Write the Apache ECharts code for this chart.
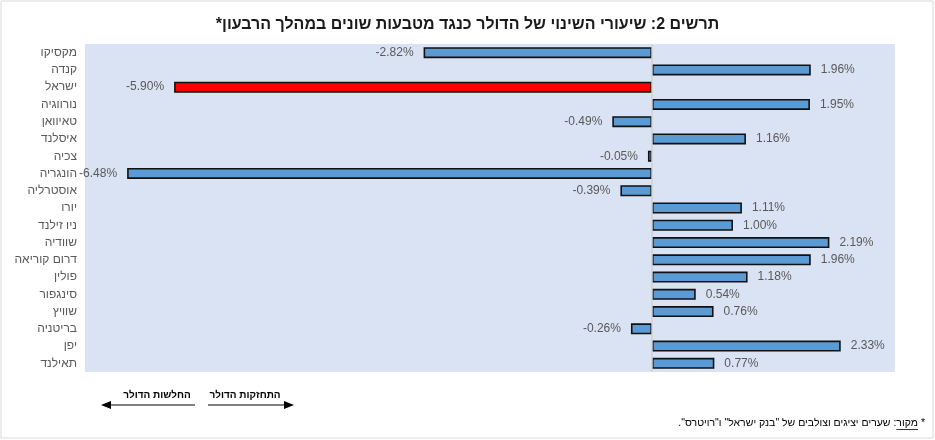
<!DOCTYPE html>
<html>
<head>
<meta charset="utf-8">
<script src="https://cdn.jsdelivr.net/npm/echarts@6/dist/echarts.min.js"></script>
<style>
  html, body { margin: 0; padding: 0; background: #fff; }
  #chart { width: 935px; height: 440px; }
</style>
</head>
<body>
<div id="chart"></div>
<script>
// נתונים
const countries = ['מקסיקו', 'קנדה', 'ישראל', 'נורווגיה', 'טאיוואן', 'איסלנד', 'צכיה', 'הונגריה', 'אוסטרליה', 'יורו',
  'ניו זילנד', 'שוודיה', 'דרום קוריאה', 'פולין', 'סינגפור', 'שוויץ', 'בריטניה', 'יפן', 'תאילנד'];
const changes = [-2.82, 1.96, -5.90, 1.95, -0.49, 1.16, -0.05, -6.48, -0.39, 1.11,
  1.00, 2.19, 1.96, 1.18, 0.54, 0.76, -0.26, 2.33, 0.77];
const highlight = 'ישראל';

const titleText = 'תרשים 2: שיעורי השינוי של הדולר כנגד מטבעות שונים במהלך הרבעון*';
const noteText = '* מקור: שערים יציגים וצולבים של "בנק ישראל" ו"רויטרס".';
const noteWord = 'מקור';
const weakText = 'החלשות הדולר';
const strongText = 'התחזקות הדולר';

const FONT = '"Liberation Sans", Arial, sans-serif';
const NOTE_FONT = '10.5px ' + FONT;
const rtl = s => '\u202B' + s + '\u202C';

// מדידת מיקום הקו התחתון של "מקור"
const ctx = document.createElement('canvas').getContext('2d');
ctx.font = NOTE_FONT;
const noteRight = 925;
const starW = ctx.measureText('* ').width;
const wordW = ctx.measureText(noteWord).width;

const chart = echarts.init(document.getElementById('chart'), null, { renderer: 'canvas' });

const barData = changes.map((v, i) => ({
  value: v,
  itemStyle: { color: countries[i] === highlight ? '#ff0000' : '#5b9bd5' },
  label: { position: v < 0 ? 'left' : 'right' }
}));

const option = {
  animation: false,
  textStyle: { fontFamily: FONT },
  grid: {
    left: 85, right: 40, top: 44, bottom: 68,
    show: true, backgroundColor: '#dae3f3', borderWidth: 0
  },
  xAxis: {
    type: 'value',
    min: -7,
    max: 3,
    show: false
  },
  yAxis: {
    type: 'category',
    data: countries,
    inverse: true,
    axisLine: { show: false },
    axisTick: { show: false },
    axisLabel: { color: '#595959', fontSize: 12, margin: 8, fontFamily: FONT }
  },
  series: [{
    type: 'bar',
    data: barData,
    barWidth: 11,
    itemStyle: { borderColor: '#111', borderWidth: 1.6 },
    label: {
      show: true,
      color: '#595959',
      fontSize: 12,
      distance: 10,
      formatter: p => p.value.toFixed(2) + '%'
    },
    markLine: {
      silent: true,
      symbol: 'none',
      label: { show: false },
      lineStyle: { color: '#d0d0d0', width: 1.5, type: 'solid' },
      data: [{ xAxis: 0 }]
    }
  }],
  graphic: [
    {
      type: 'rect', silent: true,
      shape: { x: 1, y: 1, width: 932, height: 437 },
      style: { fill: 'none', stroke: '#d9d9d9', lineWidth: 1 }
    },
    {
      type: 'text', left: 'center', top: 17,
      style: { text: rtl(titleText), font: 'bold 16px ' + FONT, fill: '#1a1a1a' }
    },
    // חיצים
    {
      type: 'text', x: 157, y: 395,
      style: { text: rtl(weakText), font: 'bold 10px ' + FONT, fill: '#000', align: 'center', verticalAlign: 'middle' }
    },
    {
      type: 'text', x: 245, y: 395,
      style: { text: rtl(strongText), font: 'bold 10px ' + FONT, fill: '#000', align: 'center', verticalAlign: 'middle' }
    },
    {
      type: 'line', shape: { x1: 110, y1: 405, x2: 195, y2: 405 },
      style: { stroke: '#000', lineWidth: 1 }
    },
    {
      type: 'polygon', shape: { points: [[101, 405], [111, 401], [111, 409]] },
      style: { fill: '#000' }
    },
    {
      type: 'line', shape: { x1: 208, y1: 405, x2: 285, y2: 405 },
      style: { stroke: '#000', lineWidth: 1 }
    },
    {
      type: 'polygon', shape: { points: [[294, 405], [284, 401], [284, 409]] },
      style: { fill: '#000' }
    },
    {
      type: 'text', x: noteRight, y: 423,
      style: { text: rtl(noteText), font: NOTE_FONT, fill: '#000', align: 'right', verticalAlign: 'middle' }
    },
    {
      type: 'line',
      shape: { x1: noteRight - starW - wordW, y1: 429.5, x2: noteRight - starW, y2: 429.5 },
      style: { stroke: '#000', lineWidth: 0.8 }
    }
  ]
};

chart.setOption(option);
window.addEventListener('resize', () => chart.resize());
</script>
</body>
</html>
